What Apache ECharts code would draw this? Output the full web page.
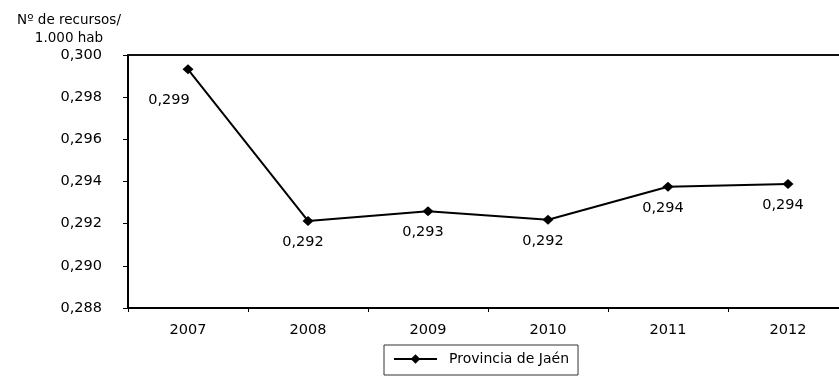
<!DOCTYPE html>
<html>
<head>
<meta charset="utf-8">
<script src="https://cdn.jsdelivr.net/npm/echarts@6/dist/echarts.min.js"></script>
<style>
  html, body { margin: 0; padding: 0; background: #fff; }
  #chart { width: 839px; height: 377px; }
</style>
</head>
<body>
<div id="chart"></div>
<script>
// Recursos por 1.000 habitantes, provincia de Jaén
var years = ['2007', '2008', '2009', '2010', '2011', '2012'];
var jaen = [0.29932, 0.29213, 0.29259, 0.29219, 0.29375, 0.29388];
var seriesName = 'Provincia de Jaén';
var axisTitle = 'Nº de recursos/\n1.000 hab';

var FONT = 'DejaVu Sans';
var FS = 14.5;
var fmt = function (v) { return Number(v).toFixed(3).replace('.', ','); };

var chart = echarts.init(document.getElementById('chart'), null, { renderer: 'canvas' });

chart.setOption({
    backgroundColor: '#fff',
    animation: false,
    textStyle: { fontFamily: FONT, color: '#000' },
    title: {
        text: axisTitle,
        left: 64, top: 6,
        textAlign: 'center',
        textStyle: { fontFamily: FONT, fontSize: 13.5, fontWeight: 'normal', color: '#000', lineHeight: 18 }
    },
    grid: {
        left: 128, top: 55, width: 720, bottom: 69,
        outerBoundsMode: 'none'
    },
    legend: {
        left: 384, top: 345,
        borderColor: '#333', borderWidth: 1,
        padding: [7, 9, 9, 9],
        itemWidth: 43, itemHeight: 12,
        textStyle: { fontFamily: FONT, fontSize: 14, color: '#000', padding: [0, 0, 0, 7] },
        data: [seriesName]
    },
    xAxis: [{
        type: 'category',
        data: years,
        axisLine: { lineStyle: { color: '#000', width: 2 } },
        axisTick: { show: true, length: 4, lineStyle: { color: '#000' } },
        axisLabel: { color: '#000', fontSize: FS, fontFamily: FONT, margin: 15 },
        splitLine: { show: false }
    }, {
        // top frame line of the plot area
        type: 'category',
        position: 'top',
        data: years,
        axisLine: { show: true, lineStyle: { color: '#111', width: 2 } },
        axisTick: { show: false },
        axisLabel: { show: false },
        splitLine: { show: false }
    }],
    yAxis: {
        type: 'value',
        min: 0.288, max: 0.300, interval: 0.002,
        axisLine: { show: true, lineStyle: { color: '#000', width: 2 } },
        axisTick: { show: true, length: 5, lineStyle: { color: '#000' } },
        axisLabel: { color: '#000', fontSize: FS, fontFamily: FONT, margin: 26, formatter: fmt },
        splitLine: { show: false }
    },
    series: [{
        name: seriesName,
        type: 'line',
        data: jaen.map(function (v, i) {
            return i === 0
                ? { value: v, label: { offset: [-19, 9] } }
                : v;
        }),
        symbol: 'diamond',
        symbolSize: [11, 10],
        lineStyle: { color: '#000', width: 2 },
        itemStyle: { color: '#000' },
        label: {
            show: true,
            position: 'bottom',
            distance: 9,
            offset: [-5, 0],
            color: '#000',
            fontFamily: FONT,
            fontSize: FS,
            formatter: function (p) { return fmt(p.value); }
        }
    }]
});
</script>
</body>
</html>
